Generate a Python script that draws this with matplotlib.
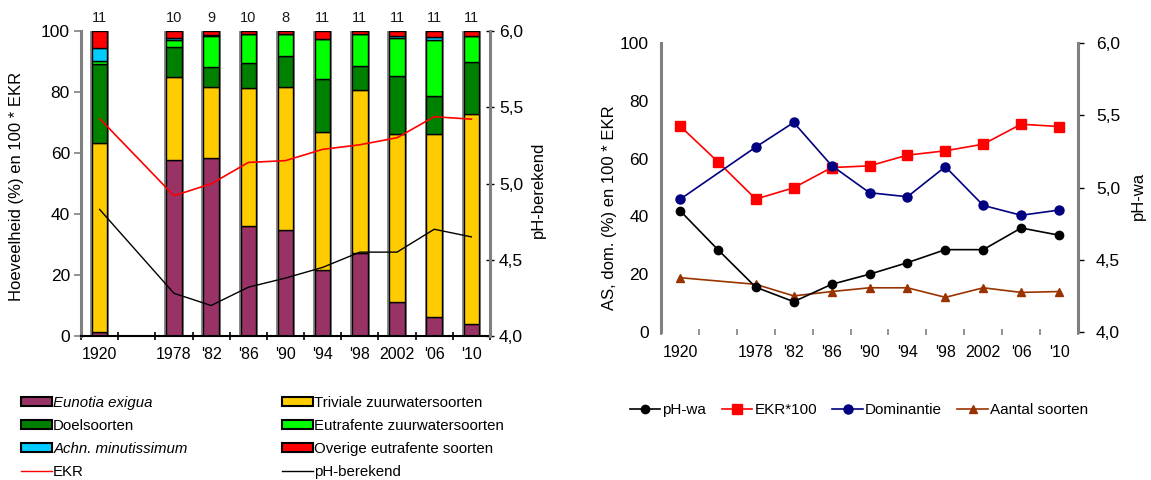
import numpy as np
import matplotlib
matplotlib.use("Agg")
import matplotlib.pyplot as plt
from matplotlib.patches import Patch
from matplotlib.lines import Line2D
from matplotlib.ticker import FixedLocator, FuncFormatter, NullFormatter

plt.rcParams['font.family'] = ['Liberation Sans', 'DejaVu Sans']

# ---- categories (the second slot is an unlabelled sampling moment) ----
categories = ['1920', '', '1978', "'82", "'86", "'90", "'94", "'98", '2002', "'06", "'10"]

# ---- left panel: species groups (%) per sampled year ----
bar_years = ['1920', '1978', "'82", "'86", "'90", "'94", "'98", '2002', "'06", "'10"]
eunotia_exigua = [1.2, 57.7, 58.3, 36.1, 34.8, 21.6, 27.1, 11.0, 6.3, 3.9]
triviale       = [62.2, 27.1, 23.4, 45.3, 46.9, 45.2, 53.6, 55.2, 59.9, 68.9]
doelsoorten    = [25.7, 9.8, 6.4, 8.0, 10.2, 17.6, 7.9, 19.0, 12.5, 17.1]
eutrafente_zuur = [1.0, 2.4, 10.3, 9.6, 7.1, 13.0, 10.4, 12.6, 18.3, 8.5]
achnanthes     = [4.3, 0.6, 0.2, 0.0, 0.0, 0.0, 0.0, 0.5, 1.0, 0.0]
overige_eutr   = [5.6, 2.4, 1.4, 1.0, 1.0, 2.6, 1.0, 1.7, 2.0, 1.6]
n_soorten_bar  = [11, 10, 9, 10, 8, 11, 11, 11, 11, 11]

ekr          = [0.713, 0.589, 0.460, 0.499, 0.569, 0.575, 0.612, 0.627, 0.650, 0.719, 0.711]
ph_berekend  = [4.83, 4.28, 4.20, 4.32, 4.38, 4.45, 4.55, 4.55, 4.70, 4.65]

# ---- right panel series (all categories; None = not sampled) ----
ph_wa       = [4.84, 4.57, 4.31, 4.21, 4.33, 4.40, 4.48, 4.57, 4.57, 4.72, 4.67]
dominantie  = [45.9, None, 64.0, 72.5, 57.6, 48.2, 46.8, 57.2, 43.8, 40.4, 42.2]
aantal      = [18.8, None, 16.5, 12.5, 14.0, 15.3, 15.3, 12.0, 15.3, 13.7, 14.0]

group_names = ['Eunotia exigua', 'Triviale zuurwatersoorten', 'Doelsoorten',
               'Eutrafente zuurwatersoorten', 'Achn. minutissimum',
               'Overige eutrafente soorten']
group_colors = ['#993366', '#FFCC00', '#008000', '#00FF00', '#00CCFF', '#FF0000']
groups = [eunotia_exigua, triviale, doelsoorten, eutrafente_zuur, achnanthes, overige_eutr]

SPINE = '#808080'
TICK_FS = 12.5
x_all = np.arange(len(categories))
x_bar = np.array([categories.index(y) for y in bar_years])

fig = plt.figure(figsize=(11.51, 4.8), dpi=100)

def pH_fmt(v, _):
    return f'{v:.1f}'.replace('.', ',')

def style_category_axis(ax, color):
    ax.set_xlim(-0.5, len(categories) - 0.5)
    ax.xaxis.set_major_locator(FixedLocator(np.arange(-0.5, len(categories), 1.0)))
    ax.xaxis.set_major_formatter(NullFormatter())
    ax.xaxis.set_minor_locator(FixedLocator(x_all))
    ax.set_xticklabels(categories, minor=True)
    ax.tick_params(axis='x', which='minor', length=0, labelsize=11.5, pad=8)
    ax.tick_params(axis='x', which='major', color=color, width=1.2)

# ================= left panel =================
ax1 = fig.add_axes([0.0704, 0.300, 0.3553, 0.6354])
ax1r = ax1.twinx()

ax1.bar(x_bar, 100, width=0.52, color='#8c8c8c', zorder=1)
bottom = np.zeros(len(bar_years))
for vals, col in zip(groups, group_colors):
    vals = np.array(vals)
    ax1.bar(x_bar, vals, width=0.42, bottom=bottom, color=col,
            edgecolor='black', linewidth=1.0, zorder=2)
    bottom += vals

for xi, n in zip(x_bar, n_soorten_bar):
    ax1.text(xi, 104.3, str(n), ha='center', va='center', fontsize=10.5,
             color='#1a1a1a', clip_on=False)

ax1.plot(x_bar, np.array(ekr)[x_bar] * 100, color='#FF0000', lw=1.2, zorder=4)
ax1r.plot(x_bar, ph_berekend, color='black', lw=1.0, zorder=4)

ax1.set_ylim(0, 100)
ax1.set_yticks(np.arange(0, 101, 20))
ax1.tick_params(axis='y', labelsize=TICK_FS, length=5, color=SPINE, width=1.2, pad=3)
style_category_axis(ax1, 'black')
ax1.tick_params(axis='x', which='major', length=6, direction='inout')
for s in ['top', 'right']:
    ax1.spines[s].set_visible(False)
ax1.spines['left'].set_color(SPINE)
ax1.spines['left'].set_linewidth(2.2)
ax1.spines['bottom'].set_linewidth(1.5)
ax1.set_ylabel('Hoeveelheid (%) en 100 * EKR', fontsize=12)
ax1.yaxis.set_label_coords(-0.14, 0.49)

ax1r.set_ylim(4.0, 6.0)
ax1r.set_yticks(np.arange(4.0, 6.01, 0.5))
ax1r.yaxis.set_major_formatter(FuncFormatter(pH_fmt))
ax1r.tick_params(axis='y', labelsize=TICK_FS, length=6, direction='inout', color='black', width=1.0)
for s in ['top', 'left', 'bottom']:
    ax1r.spines[s].set_visible(False)
ax1r.spines['right'].set_color(SPINE)
ax1r.spines['right'].set_linewidth(2.2)
ax1r.set_ylabel('pH-berekend', fontsize=12)
ax1r.yaxis.set_label_coords(1.10, 0.48)

# legend of the left panel (column-wise order)
def bar_patch(col):
    return Patch(facecolor=col, edgecolor='black', linewidth=1.5)

h_left = [bar_patch(group_colors[0]), bar_patch(group_colors[2]), bar_patch(group_colors[4]),
          Line2D([], [], color='#FF0000', lw=1.0),
          bar_patch(group_colors[1]), bar_patch(group_colors[3]), bar_patch(group_colors[5]),
          Line2D([], [], color='black', lw=1.0)]
l_left = [group_names[0], group_names[2], group_names[4], 'EKR',
          group_names[1], group_names[3], group_names[5], 'pH-berekend']
leg1 = fig.legend(h_left, l_left, ncol=2, loc='upper left',
                  bbox_to_anchor=(21 / 1151, 1 - 396 / 480), frameon=False,
                  fontsize=10.8, handlelength=2.05, handleheight=0.55,
                  handletextpad=0.1, labelspacing=0.6, columnspacing=6.3,
                  borderpad=0, borderaxespad=0)
for t in leg1.get_texts():
    if t.get_text() in ('Eunotia exigua', 'Achn. minutissimum'):
        t.set_fontstyle('italic')

# ================= right panel =================
ax2 = fig.add_axes([0.5743, 0.3083, 0.3623, 0.6021])
ax2r = ax2.twinx()

def valid(series):
    idx = [i for i, v in enumerate(series) if v is not None]
    return np.array(idx), np.array([series[i] for i in idx], dtype=float)

xd, yd = valid(dominantie)
xa, ya = valid(aantal)
ax2.plot(x_all, np.array(ekr) * 100, color='#FF0000', lw=1.2, marker='s', ms=6.5, zorder=3)
ax2.plot(xd, yd, color='#000080', lw=1.2, marker='o', ms=6.5, zorder=3)
ax2.plot(xa, ya, color='#993300', lw=1.2, marker='^', ms=6, zorder=3)
ax2r.plot(x_all, ph_wa, color='black', lw=1.2, marker='o', ms=6, zorder=3)

ax2.set_ylim(0, 100)
ax2.set_yticks(np.arange(0, 101, 20))
ax2.tick_params(axis='y', labelsize=TICK_FS, length=0, pad=9)
style_category_axis(ax2, SPINE)
ax2.tick_params(axis='x', which='major', length=5, direction='inout')
ax2.tick_params(axis='x', which='minor', pad=9)
for s in ['top', 'right', 'bottom']:
    ax2.spines[s].set_visible(False)
ax2.spines['left'].set_color(SPINE)
ax2.spines['left'].set_linewidth(2.2)
ax2.set_ylabel('AS, dom. (%) en 100 * EKR', fontsize=12)
ax2.yaxis.set_label_coords(-0.105, 0.43)

ax2r.set_ylim(4.0, 6.0)
ax2r.set_yticks(np.arange(4.0, 6.01, 0.5))
ax2r.yaxis.set_major_formatter(FuncFormatter(pH_fmt))
ax2r.tick_params(axis='y', labelsize=TICK_FS, length=4, direction='out', color='black', width=1.0, pad=9)
for s in ['top', 'left', 'bottom']:
    ax2r.spines[s].set_visible(False)
ax2r.spines['right'].set_color(SPINE)
ax2r.spines['right'].set_linewidth(2.2)
ax2r.set_ylabel('pH-wa', fontsize=12)
ax2r.yaxis.set_label_coords(1.128, 0.47)

h_right = [Line2D([], [], color='black', lw=1.2, marker='o', ms=6),
           Line2D([], [], color='#FF0000', lw=1.2, marker='s', ms=6.5),
           Line2D([], [], color='#000080', lw=1.2, marker='o', ms=6.5),
           Line2D([], [], color='#993300', lw=1.2, marker='^', ms=6)]
l_right = ['pH-wa', 'EKR*100', 'Dominantie', 'Aantal soorten']
fig.legend(h_right, l_right, ncol=4, loc='center',
           bbox_to_anchor=(859 / 1151, 1 - 410 / 480), frameon=False,
           fontsize=11, handlelength=2.0, handletextpad=0.15,
           columnspacing=1.0, borderpad=0, borderaxespad=0)

fig.savefig('out.png', dpi=100)
